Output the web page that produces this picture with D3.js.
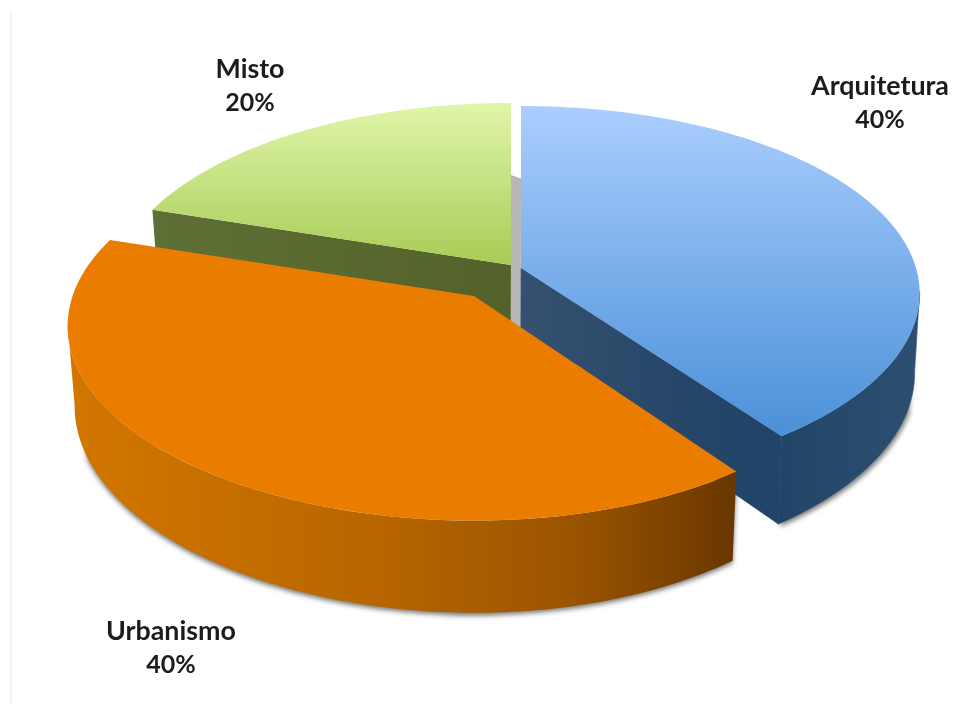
<!DOCTYPE html>
<html>
<head>
<meta charset="utf-8">
<script src="https://cdn.jsdelivr.net/npm/d3@7"></script>
<style>
  html, body { margin: 0; padding: 0; background: #fff; }
  svg { display: block; }
  text { font-family: Lato, "Open Sans", sans-serif; font-weight: 700; fill: #1c1c1c; }
</style>
</head>
<body>
<svg id="chart" width="955" height="704"></svg>
<script>
// Project focus areas, in clockwise order from twelve o'clock.
const categories = ["Arquitetura", "Urbanismo", "Misto"];
const shares = [40, 40, 20];

// Exploded apex of each wedge on the page, and where each label sits.
const apexes = [[521, 268], [474, 296], [511, 265]];
const labelAnchors = [[880, 95], [171, 640], [250, 78]];
const labelLeading = 33;

// Perspective of each wedge: radii, depth foreshortening and sideways lean.
const radiusX = [395, 395, 395];
const radiusY = [184.5, 190, 187];
const foreshortenX = [0.135, 0.154, 0.154];
const foreshortenY = [0.139, 0.154, 0.154];
const leanX = [0, 0.016, 0];
const thickness = 78, taperCentre = 500, taper = [0.988, 0.984, 0.984];

const topFills = [
  { stops: [["0%", "#abcefe"], ["100%", "#4a90d8"]], y: [104, 438] },
  null,
  { stops: [["0%", "#e0f6aa"], ["100%", "#a9cb56"]], y: [103, 266] }
];
const sideStops = [
  { x: [521, 915], stops: [["0%", "#35516f"], ["35%", "#284869"], ["62%", "#204367"], ["100%", "#2c4f71"]] },
  { x: [75, 735],  stops: [["0%", "#d27600"], ["45%", "#b86600"], ["75%", "#9c5400"], ["100%", "#693700"]] },
  { x: [152, 511], stops: [["0%", "#5f7036"], ["100%", "#52622a"]] }
];
const flatOrange = "#ea7d00";
const wallGrey = "#b7b7b7";

const svg = d3.select("#chart");
const defs = svg.append("defs");

defs.append("filter").attr("id", "rimShadow")
  .attr("x", "-10%").attr("y", "-10%").attr("width", "120%").attr("height", "120%")
  .append("feGaussianBlur").attr("stdDeviation", 2.6);

// Vertical gradients for the lit faces, horizontal ones for the sides.
topFills.forEach((f, i) => {
  if (!f) return;
  const g = defs.append("linearGradient").attr("id", `top${i}`)
    .attr("gradientUnits", "userSpaceOnUse")
    .attr("x1", 0).attr("x2", 0).attr("y1", f.y[0]).attr("y2", f.y[1]);
  f.stops.forEach(s => g.append("stop").attr("offset", s[0]).attr("stop-color", s[1]));
});
sideStops.forEach((f, i) => {
  const g = defs.append("linearGradient").attr("id", `side${i}`)
    .attr("gradientUnits", "userSpaceOnUse")
    .attr("x1", f.x[0]).attr("x2", f.x[1]).attr("y1", 0).attr("y2", 0);
  f.stops.forEach(s => g.append("stop").attr("offset", s[0]).attr("stop-color", s[1]));
});

const arcs = d3.pie().sort(null).value(d => d)(shares);

// Maps a polar position on the disc to the page, relative to a wedge apex.
function project(i, angle, r = 1) {
  const u = Math.sin(angle) * r, v = -Math.cos(angle) * r;
  return [
    apexes[i][0] + radiusX[i] * u / (1 - foreshortenX[i] * v + leanX[i] * u),
    apexes[i][1] + radiusY[i] * v / (1 - foreshortenY[i] * v)
  ];
}
// Same position dropped onto the lower face.
function lower(i, angle, r = 1) {
  const [x, y] = project(i, angle, r);
  const v = -Math.cos(angle) * r;
  return [taperCentre + (x - taperCentre) * taper[i], y + thickness / (1 - foreshortenY[i] * v)];
}

const angleSteps = (a0, a1) => d3.range(0, 121).map(i => a0 + (a1 - a0) * i / 120);
const closed = d3.line().curve(d3.curveLinearClosed);

// Angle at which a wedge's outline reaches furthest to one side.
function widestAngle(i, sign) {
  const a = arcs[i];
  return d3.greatest(angleSteps(a.startAngle, a.endAngle), t => sign * project(i, t)[0]);
}

function topPath(i) {
  const a = arcs[i];
  return closed([apexes[i], ...angleSteps(a.startAngle, a.endAngle).map(t => project(i, t))]);
}
function rimPath(i, from, to) {
  const steps = angleSteps(from, to);
  return closed([...steps.map(t => project(i, t)), ...steps.slice().reverse().map(t => lower(i, t))]);
}
function wallPath(i, angle) {
  return closed([apexes[i], project(i, angle), lower(i, angle), lower(i, angle, 0)]);
}

const root = svg.append("g");

// Faint rule on the left margin of the figure.
root.append("line").attr("x1", 11).attr("x2", 11).attr("y1", 13).attr("y2", 704)
  .attr("stroke", "#efeff1").attr("stroke-width", 1.5);

const m = 2, a = 0, u = 1;
const rimA = [widestAngle(a, 1), arcs[a].endAngle];
const rimU = [arcs[u].startAngle, widestAngle(u, -1)];

// Soft shadow under the front rims of the two large wedges.
const shadows = root.append("g").attr("filter", "url(#rimShadow)")
  .attr("fill", "#777").attr("transform", "translate(0,2.5)");
shadows.append("path").attr("d", rimPath(u, rimU[0], rimU[1] - 0.25));
shadows.append("path").attr("transform", "translate(2,0)").attr("d", rimPath(a, rimA[0] + 0.2, rimA[1]));

// Back wedge first, then the grey gap wall, then the wedges that overlap it.
root.append("path").attr("d", wallPath(m, arcs[m].startAngle)).attr("fill", `url(#side${m})`);

// Inner wall visible through the gap between the two rear wedges.
root.append("path")
  .attr("d", closed([project(m, 0, 0.52), project(a, 0, 0.52), lower(a, 0, 0), lower(m, 0, 0)]))
  .attr("fill", wallGrey);
root.append("path").attr("d", topPath(m)).attr("fill", `url(#top${m})`);

root.append("path").attr("d", wallPath(a, arcs[a].endAngle))
  .attr("fill", `url(#side${a})`).attr("stroke", `url(#side${a})`).attr("stroke-width", 0.6);
root.append("path").attr("d", rimPath(a, rimA[0], rimA[1]))
  .attr("fill", `url(#side${a})`).attr("stroke", `url(#side${a})`).attr("stroke-width", 0.6);
root.append("path").attr("d", topPath(a)).attr("fill", `url(#top${a})`);

root.append("path").attr("d", rimPath(u, rimU[0], rimU[1])).attr("fill", `url(#side${u})`);
root.append("path").attr("d", topPath(u)).attr("fill", flatOrange);

// Two-line category and percentage labels.
const percent = d3.format(".0%");
const total = d3.sum(shares);
const labels = root.append("g").attr("text-anchor", "middle");
categories.forEach((name, i) => {
  const t = labels.append("text").attr("x", labelAnchors[i][0]).attr("y", labelAnchors[i][1]);
  t.append("tspan").attr("font-size", 26.8).text(name);
  t.append("tspan").attr("x", labelAnchors[i][0]).attr("dy", labelLeading)
    .attr("font-size", 25).text(percent(shares[i] / total));
});
</script>
</body>
</html>
